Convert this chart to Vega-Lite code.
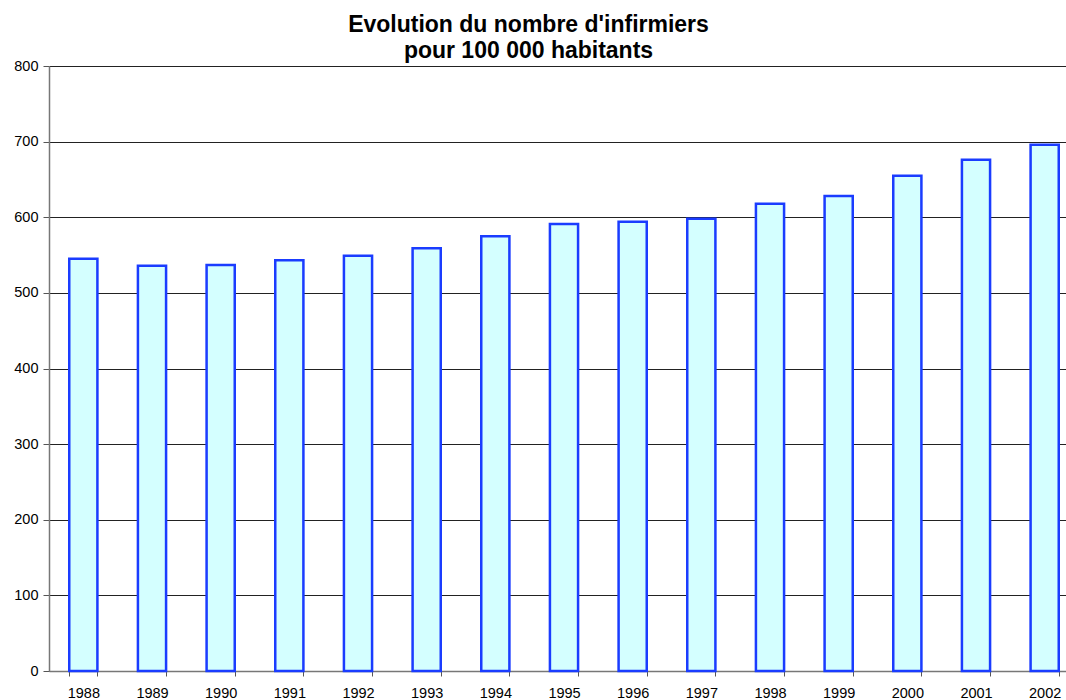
{
  "$schema": "https://vega.github.io/schema/vega-lite/v6.json",
  "width": 1017,
  "height": 605,
  "autosize": {"type": "none"},
  "padding": {"left": 49, "top": 66, "right": 0, "bottom": 29},
  "background": "white",
  "title": {
    "text": ["Evolution du nombre d'infirmiers", "pour 100 000 habitants"],
    "font": "Liberation Sans",
    "fontSize": 23,
    "fontWeight": "bold",
    "color": "black",
    "anchor": "middle",
    "frame": "group",
    "dx": -29,
    "offset": -5,
    "lineHeight": 26
  },
  "data": {
    "values": [
      {"annee": "1988", "valeur": 545},
      {"annee": "1989", "valeur": 536},
      {"annee": "1990", "valeur": 537},
      {"annee": "1991", "valeur": 543},
      {"annee": "1992", "valeur": 549},
      {"annee": "1993", "valeur": 559},
      {"annee": "1994", "valeur": 575},
      {"annee": "1995", "valeur": 591},
      {"annee": "1996", "valeur": 594},
      {"annee": "1997", "valeur": 598},
      {"annee": "1998", "valeur": 618},
      {"annee": "1999", "valeur": 628},
      {"annee": "2000", "valeur": 655},
      {"annee": "2001", "valeur": 676},
      {"annee": "2002", "valeur": 696}
    ]
  },
  "mark": {"type": "bar", "fill": "#D4FFFF", "stroke": "#1A3CFF", "strokeWidth": 2.5},
  "encoding": {
    "x": {
      "field": "annee",
      "type": "ordinal",
      "scale": {"range": [0, 1030], "paddingInner": 0.59, "paddingOuter": 0.295},
      "axis": {
        "title": null,
        "labelAngle": 0,
        "labelFont": "Liberation Sans",
        "labelFontSize": 14.5,
        "labelColor": "black",
        "labelPadding": 10,
        "tickBand": "extent",
        "tickSize": 5,
        "tickColor": "#555",
        "domainColor": "#777",
        "domainWidth": 1.5
      }
    },
    "y": {
      "field": "valeur",
      "type": "quantitative",
      "scale": {"domain": [0, 800], "nice": false},
      "axis": {
        "title": null,
        "values": [0, 100, 200, 300, 400, 500, 600, 700, 800],
        "grid": true,
        "gridColor": "#222",
        "gridWidth": 1,
        "labelFont": "Liberation Sans",
        "labelFontSize": 14.5,
        "labelColor": "black",
        "labelPadding": 5,
        "tickSize": 6,
        "tickColor": "#555",
        "domainColor": "#777",
        "domainWidth": 1.5
      }
    }
  },
  "config": {"view": {"stroke": null}}
}
